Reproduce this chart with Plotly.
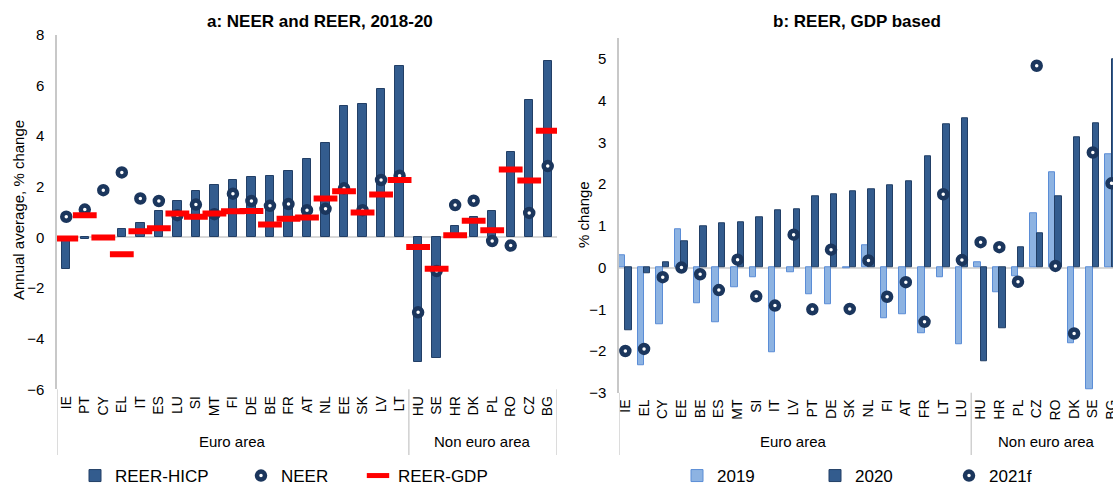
import plotly.graph_objects as go

# ---------------- data ----------------
cats_a = ["IE", "PT", "CY", "EL", "IT", "ES", "LU", "SI", "MT", "FI", "DE", "BE", "FR", "AT",
          "NL", "EE", "SK", "LV", "LT", "HU", "SE", "HR", "DK", "PL", "RO", "CZ", "BG"]
reer_hicp = [-1.23, -0.05, 0.0, 0.32, 0.58, 1.04, 1.44, 1.83, 2.07, 2.27, 2.37, 2.44, 2.64, 3.12,
             3.75, 5.18, 5.27, 5.85, 6.79, -4.94, -4.78, 0.45, 0.82, 1.03, 3.39, 5.45, 6.98]
neer = [0.82, 1.10, 1.87, 2.57, 1.54, 1.44, 0.88, 1.30, 0.92, 1.73, 1.44, 1.25, 1.32, 1.08,
        1.13, 1.94, 1.08, 2.27, 2.44, -2.96, -1.33, 1.28, 1.45, -0.14, -0.32, 0.97, 2.82]
reer_gdp = [-0.04, 0.88, 0.0, -0.66, 0.25, 0.36, 0.95, 0.82, 0.95, 1.04, 1.05, 0.51, 0.74, 0.79,
            1.54, 1.83, 0.99, 1.70, 2.27, -0.38, -1.24, 0.09, 0.66, 0.28, 2.69, 2.25, 4.22]

cats_b = ["IE", "EL", "CY", "EE", "BE", "ES", "MT", "SI", "IT", "LV", "PT", "DE", "SK", "NL",
          "FI", "AT", "FR", "LT", "LU", "HU", "HR", "PL", "CZ", "RO", "DK", "SE", "BG"]
y2019 = [0.29, -2.33, -1.36, 0.91, -0.86, -1.31, -0.48, -0.24, -2.04, -0.12, -0.65, -0.88, -0.02, 0.53,
         -1.21, -1.12, -1.58, -0.22, -1.83, 0.13, -0.58, -0.20, 1.31, 2.29, -1.82, -2.92, 2.73]
y2020 = [-1.50, -0.14, 0.14, 0.63, 0.98, 1.07, 1.08, 1.20, 1.37, 1.39, 1.71, 1.77, 1.82, 1.89,
         1.98, 2.06, 2.66, 3.44, 3.58, -2.25, -1.46, 0.49, 0.82, 1.70, 3.13, 3.47, 5.00]
y2021f = [-2.00, -1.95, -0.23, 0.0, -0.16, -0.54, 0.19, -0.69, -0.91, 0.79, -1.00, 0.43, -0.99, 0.17,
          -0.70, -0.35, -1.30, 1.76, 0.18, 0.61, 0.49, -0.34, 4.84, 0.04, -1.58, 2.76, 2.02]

n_euro = 19  # first 19 categories are euro area in both panels
yticks_a = [-6, -4, -2, 0, 2, 4, 6, 8]
yticks_b = [-3, -2, -1, 0, 1, 2, 3, 4, 5]

# ---------------- style ----------------
FONT = "Liberation Sans, Arial, sans-serif"
NAVY = "#1B365D"
DARK = "#335C8E"
DARK_LINE = "#223F66"
LIGHT = "#8DB3E2"
LIGHT_LINE = "#5B8DD6"
RED = "#FF0000"
AXIS_GREY = "#C8C8C8"
W, H = 1113, 488

def px_x(v):
    return v / W

def px_y(v):
    return 1 - v / H

fig = go.Figure()

# ---- panel a ----
fig.add_trace(go.Bar(x=cats_a, y=reer_hicp, name="REER-HICP", xaxis="x", yaxis="y",
                     width=0.45, offset=-0.225,
                     marker=dict(color=DARK, line=dict(color=DARK_LINE, width=1)),
                     legend="legend"))
fig.add_trace(go.Scatter(x=cats_a, y=neer, name="NEER", mode="markers", xaxis="x", yaxis="y",
                         marker=dict(symbol="circle", size=8, color="white",
                                     line=dict(color=NAVY, width=4.5)),
                         legend="legend2"))
fig.add_trace(go.Scatter(x=cats_a, y=reer_gdp, name="REER-GDP", mode="markers", xaxis="x", yaxis="y",
                         marker=dict(symbol="line-ew", size=17, color=RED,
                                     line=dict(color=RED, width=6)),
                         legend="legend3"))

# ---- panel b ----
fig.add_trace(go.Bar(x=cats_b, y=y2019, name="2019", xaxis="x2", yaxis="y2",
                     width=0.34, offset=-0.34,
                     marker=dict(color=LIGHT, line=dict(color=LIGHT_LINE, width=1)),
                     legend="legend4"))
fig.add_trace(go.Bar(x=cats_b, y=y2020, name="2020", xaxis="x2", yaxis="y2",
                     width=0.34, offset=0.0,
                     marker=dict(color=DARK, line=dict(color=DARK_LINE, width=1)),
                     legend="legend5"))
fig.add_trace(go.Scatter(x=cats_b, y=y2021f, name="2021f", mode="markers", xaxis="x2", yaxis="y2",
                         marker=dict(symbol="circle", size=8, color="white",
                                     line=dict(color=NAVY, width=4.5)),
                         legend="legend6"))

xa_dom = [px_x(57), px_x(557)]
ya_dom = [px_y(389.3), px_y(35)]
xb_dom = [px_x(619), 1.0]
yb_dom = [px_y(392.7), px_y(38.25)]

common_x = dict(type="category", showline=False, showgrid=False, zeroline=False, ticks="",
                tickangle=-90, tickfont=dict(family=FONT, size=14, color="black"),
                ticklabelstandoff=3, automargin=False)
common_y = dict(showgrid=False, showline=True, linecolor=AXIS_GREY, linewidth=1.5,
                zeroline=True, zerolinecolor="#D9D9D9", zerolinewidth=2, ticks="",
                tickfont=dict(family=FONT, size=15, color="black"), ticklabelstandoff=8,
                automargin=False)

legend_common = dict(orientation="h", bgcolor="rgba(0,0,0,0)", borderwidth=0,
                     font=dict(family=FONT, size=17, color="black"),
                     yanchor="middle", xanchor="left", y=px_y(476),
                     itemwidth=30, tracegroupgap=0)

def leg(text_start):
    d = dict(legend_common)
    d["x"] = px_x(text_start - 38)
    return d

fig.update_layout(
    width=W, height=H,
    margin=dict(l=0, r=0, t=0, b=0, autoexpand=False),
    paper_bgcolor="white", plot_bgcolor="white",
    font=dict(family=FONT, color="black"),
    bargap=0,
    xaxis=dict(common_x, domain=xa_dom, anchor="y", range=[-0.5, 26.5]),
    yaxis=dict(common_y, domain=ya_dom, anchor="x", range=[-6, 8], tickvals=yticks_a),
    xaxis2=dict(common_x, domain=xb_dom, anchor="y2", range=[-0.34, 26.08]),
    yaxis2=dict(common_y, domain=yb_dom, anchor="x2", range=[-3, 5.5], tickvals=yticks_b),
    legend=leg(113),
    legend2=leg(279),
    legend3=leg(396),
    legend4=leg(715),
    legend5=leg(853),
    legend6=leg(987),
    showlegend=True,
)

# titles
fig.add_annotation(text="<b>a: NEER and REER, 2018-20</b>", xref="paper", yref="paper",
                   x=px_x(320), y=px_y(22), showarrow=False, xanchor="center", yanchor="middle",
                   font=dict(family=FONT, size=17, color="black"))
fig.add_annotation(text="<b>b: REER, GDP based</b>", xref="paper", yref="paper",
                   x=px_x(857), y=px_y(22), showarrow=False, xanchor="center", yanchor="middle",
                   font=dict(family=FONT, size=17, color="black"))

# y-axis titles
fig.add_annotation(text="Annual average, % change", xref="paper", yref="paper",
                   x=px_x(18), y=px_y(210), textangle=-90, showarrow=False,
                   xanchor="center", yanchor="middle", font=dict(family=FONT, size=15, color="black"))
fig.add_annotation(text="% change", xref="paper", yref="paper",
                   x=px_x(583), y=px_y(215), textangle=-90, showarrow=False,
                   xanchor="center", yanchor="middle", font=dict(family=FONT, size=15, color="black"))

# group labels and separators (positions in category units)
for xr, ncat in (("x", len(cats_a)), ("x2", len(cats_b))):
    fig.add_annotation(text="Euro area", xref=xr, yref="paper", x=(n_euro - 1) / 2, y=px_y(441),
                       showarrow=False, xanchor="center", yanchor="middle",
                       font=dict(family=FONT, size=15, color="black"))
    fig.add_annotation(text="Non euro area", xref=xr, yref="paper", x=(n_euro - 0.5 + ncat - 0.5) / 2,
                       y=px_y(441), showarrow=False, xanchor="center", yanchor="middle",
                       font=dict(family=FONT, size=15, color="black"))

seps = [("x", -0.5, 389.3), ("x", n_euro - 0.5, 389.3), ("x", len(cats_a) - 0.5, 389.3),
        ("x2", -0.34, 392.7), ("x2", n_euro - 0.5, 392.7)]
for xr, xv, ytop in seps:
    fig.add_shape(type="line", xref=xr, yref="paper", x0=xv, x1=xv, y0=px_y(ytop), y1=px_y(455),
                  line=dict(color="#D0D0D0", width=1.5))

fig.write_html("out.html", config={"displayModeBar": False},
               post_script="document.body.style.margin='0';document.body.style.overflow='hidden';")
